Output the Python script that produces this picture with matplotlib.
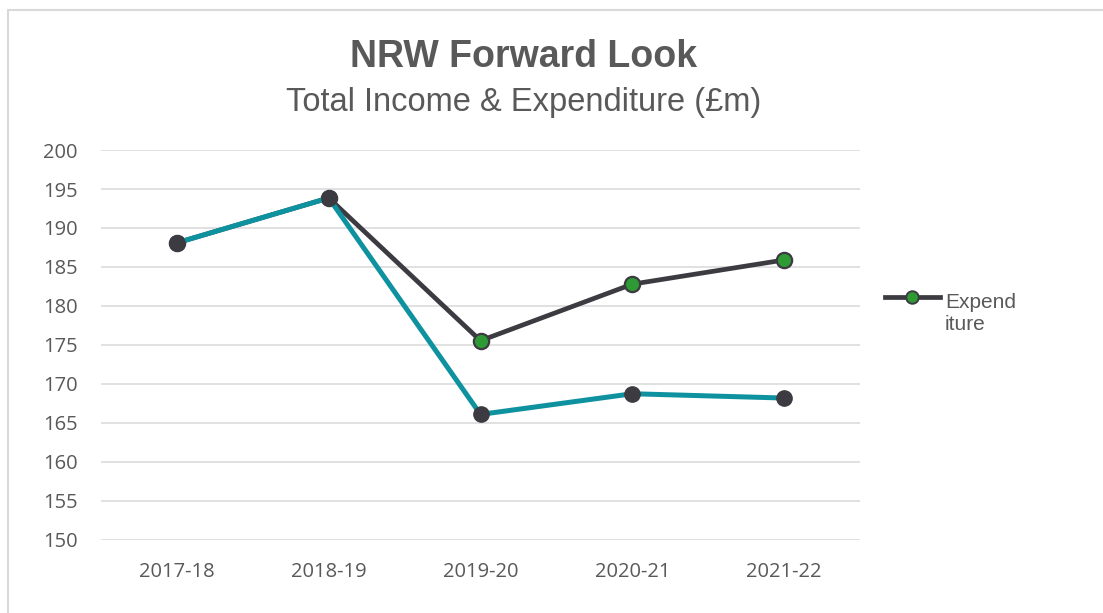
import matplotlib.pyplot as plt
from matplotlib.lines import Line2D

# datos (millones de libras)
years = ['2017-18', '2018-19', '2019-20', '2020-21', '2021-22']
income = [188.1, 193.85, 166.1, 168.75, 168.2]
expenditure = [188.1, 193.85, 175.55, 182.8, 185.9]
yticks = [150, 155, 160, 165, 170, 175, 180, 185, 190, 195, 200]

teal = '#0E929F'
dark = '#3B3B41'
green = '#2E9A34'
grey_text = '#595959'

fig = plt.figure(figsize=(11.03, 6.13), dpi=100)
ax = fig.add_axes([0.0916, 0.1191, 0.6881, 0.6362])

x = range(len(years))

# gasto con marcadores verdes
ax.plot(x, expenditure, color=dark, lw=3.4, marker='o', ms=11,
        mfc=green, mec=dark, mew=1.6, zorder=3)
# ingresos encima, marcadores oscuros
ax.plot(x, income, color=teal, lw=3.6, marker='o', ms=11,
        mfc=dark, mec=dark, zorder=4)

ax.set_xlim(-0.5, len(years) - 0.5)
ax.set_ylim(150, 200)
ax.set_yticks(yticks)
ax.set_xticks(list(x))
ax.set_xticklabels(years)
ax.grid(axis='y', color='#D9D9D9', lw=1.1)
ax.set_axisbelow(True)
for s in ax.spines.values():
    s.set_visible(False)
ax.tick_params(length=0, colors=grey_text, labelsize=14.5)
ax.tick_params(axis='x', pad=16)
ax.tick_params(axis='y', pad=17)
for lab in ax.get_xticklabels() + ax.get_yticklabels():
    lab.set_fontfamily('Open Sans')

# titulo
fig.text(0.4745, 0.907, 'NRW Forward Look', ha='center', va='center',
         fontsize=27, fontweight='bold', color=grey_text, family='Liberation Sans')
fig.text(0.4745, 0.832, 'Total Income & Expenditure (£m)', ha='center', va='center',
         fontsize=23.5, color=grey_text, family='Liberation Sans')

# leyenda (solo la serie de gasto, la marca alineada con la primera linea)
ly = 1 - 297 / 613
fig.add_artist(Line2D([885 / 1103, 912 / 1103, 940 / 1103], [ly, ly, ly],
                      color=dark, lw=3.4, marker='o', ms=9, mfc=green,
                      mec=dark, mew=1.4, markevery=[1]))
fig.text(945 / 1103, 1 - 330 / 613, 'Expend\niture', ha='left', va='baseline',
         fontsize=15, color=grey_text, family='Liberation Sans',
         linespacing=1.2, transform=fig.transFigure)

# borde del grafico
fig.add_artist(Line2D([0.007, 0.007], [0.0, 0.983], color='#D9D9D9', lw=1.5))
fig.add_artist(Line2D([0.007, 1.0], [0.983, 0.983], color='#D9D9D9', lw=1.5))

plt.savefig('out.png', dpi=100)
